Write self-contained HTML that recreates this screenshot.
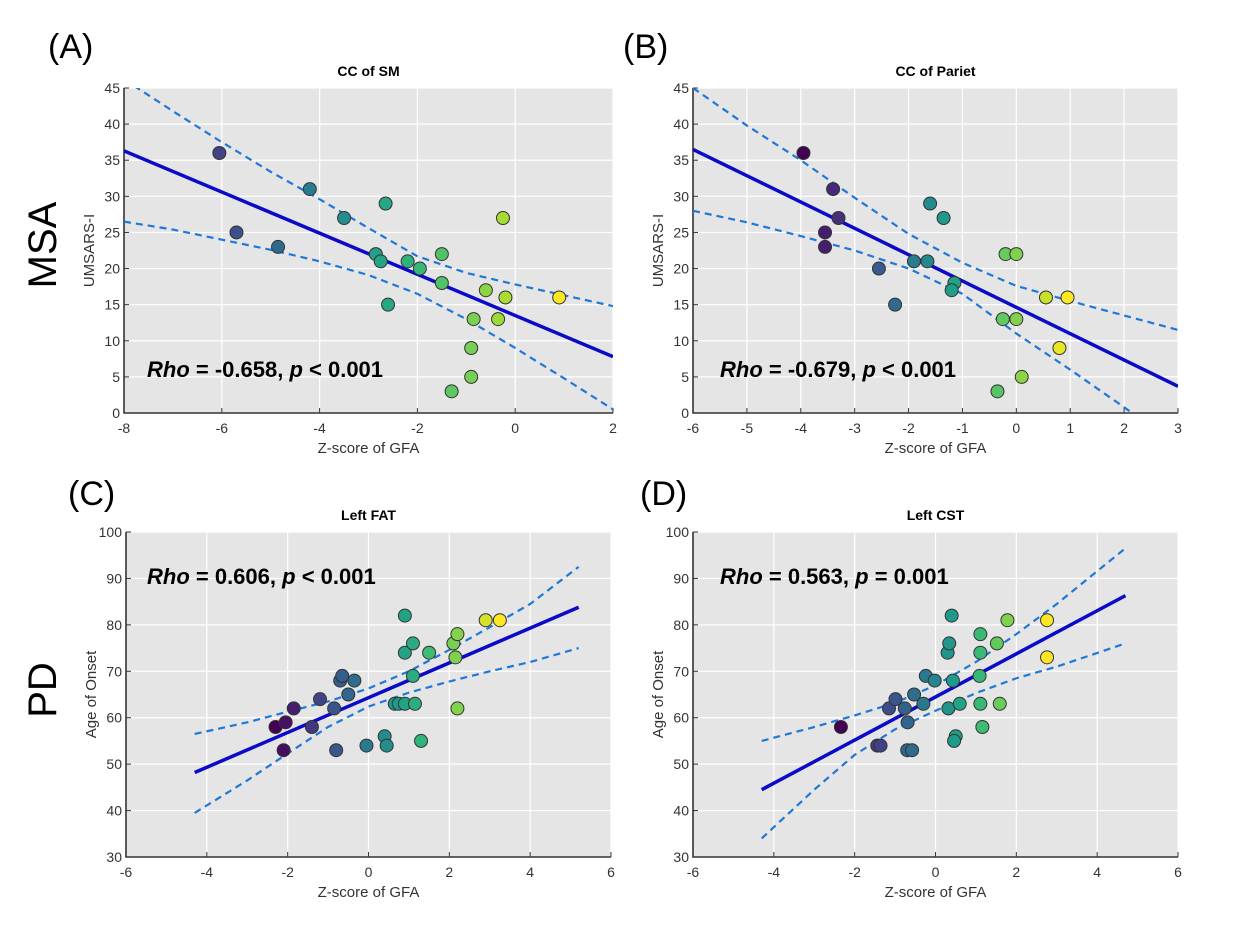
<!DOCTYPE html>
<html><head><meta charset="utf-8"><style>
body{margin:0;background:#fff;}
svg{display:block;font-family:"Liberation Sans",Arial,sans-serif;}
</style></head><body>
<svg id="fig" width="1235" height="934" viewBox="0 0 1235 934" xmlns="http://www.w3.org/2000/svg">
<text x="48" y="58" font-size="34">(A)</text>
<text x="623" y="58" font-size="34">(B)</text>
<text x="68" y="505" font-size="34">(C)</text>
<text x="640" y="505" font-size="34">(D)</text>
<text transform="translate(56,245) rotate(-90)" text-anchor="middle" font-size="40">MSA</text>
<text transform="translate(56,690) rotate(-90)" text-anchor="middle" font-size="40">PD</text>
</svg>
<script>
// Panel A data
const aX=[-6.05,-5.7,-4.85,-4.2,-3.5,-2.65,-2.85,-2.75,-2.6,-2.2,-1.95,-1.5,-1.5,-1.3,-0.85,-0.9,-0.9,-0.6,-0.25,-0.35,-0.2,0.9];
const aY=[36,25,23,31,27,29,22,21,15,21,20,22,18,3,13,9,5,17,27,13,16,16];
const aFitX=[-8,2]; const aFitY=[36.3,7.8];
const aCiX=[-8,-7,-6,-5,-4,-3,-2,-1,0,1,2];
const aCiUp=[46.2,41.8,37.5,33.4,29.6,25.6,21.7,19.4,17.8,16.3,14.8];
const aCiLo=[26.5,25.4,24.0,22.6,21.0,19.1,16.5,13.0,9.0,4.8,0.5];
// Panel B data
const bX=[-3.95,-3.4,-3.3,-3.55,-3.55,-2.55,-2.25,-1.9,-1.65,-1.6,-1.35,-1.15,-1.2,-0.2,0.0,-0.25,0.0,-0.35,0.1,0.55,0.95,0.8];
const bY=[36,31,27,25,23,20,15,21,21,29,27,18,17,22,22,13,13,3,5,16,16,9];
const bFitX=[-6,3]; const bFitY=[36.5,3.7];
const bCiX=[-6,-5,-4,-3,-2,-1,0,1,2,3];
const bCiUp=[45,39.8,35,29.8,24.8,20.8,17.6,15.5,13.5,11.5];
const bCiLo=[28,26.4,24.5,22.5,20,16.5,11,6,0.8,-4.5];
// Panel C data
const cX=[-2.3,-2.05,-2.1,-1.85,-1.4,-1.2,-0.85,-0.7,-0.65,-0.8,-0.5,-0.35,-0.05,0.4,0.45,0.9,0.9,1.1,1.1,0.65,0.75,0.9,1.15,1.3,1.5,2.1,2.15,2.2,2.2,2.9,3.25];
const cY=[58,59,53,62,58,64,62,68,69,53,65,68,54,56,54,82,74,76,69,63,63,63,63,55,74,76,73,78,62,81,81];
const cFitX=[-4.3,5.2]; const cFitY=[48.2,83.8];
const cCiX=[-4.3,-3,-2,-1,0,1,2,3,4,5.2];
const cCiUp=[56.5,59,61.3,63.5,66.3,70,74.6,79.5,84.5,92.5];
const cCiLo=[39.5,46.5,52.3,58,62.4,65.4,67.8,70,72,75];
// Panel D data
const dX=[-2.34,-1.44,-1.36,-1.15,-0.99,-0.76,-0.69,-0.7,-0.58,-0.53,-0.3,-0.24,-0.02,0.32,0.3,0.34,0.4,0.43,0.5,0.46,0.6,1.09,1.11,1.11,1.11,1.16,1.52,1.59,1.78,2.76,2.76];
const dY=[58,54,54,62,64,62,59,53,53,65,63,69,68,62,74,76,82,68,56,55,63,69,74,78,63,58,76,63,81,81,73];
const dFitX=[-4.3,4.7]; const dFitY=[44.5,86.3];
const dCiX=[-4.3,-3,-2,-1,0,1,2,3,4.7];
const dCiUp=[55,58,60.5,63.2,67,72,78,84.5,96.5];
const dCiLo=[34,44.5,52,57.5,61.5,65.3,68.5,71,76];
// Axis ticks
const ticksAx=[-8,-6,-4,-2,0,2]; const ticksAy=[0,5,10,15,20,25,30,35,40,45];
const ticksBx=[-6,-5,-4,-3,-2,-1,0,1,2,3]; const ticksBy=[0,5,10,15,20,25,30,35,40,45];
const ticksCx=[-6,-4,-2,0,2,4,6]; const ticksCy=[30,40,50,60,70,80,90,100];
const ticksDx=[-6,-4,-2,0,2,4,6]; const ticksDy=[30,40,50,60,70,80,90,100];

const NS='http://www.w3.org/2000/svg';
const svg=document.getElementById('fig');
const VIR=[[68,1,84],[72,40,120],[62,74,137],[49,104,142],[38,130,142],[31,158,137],[53,183,121],[109,205,89],[180,222,44],[253,231,37]];
function vir(t){t=Math.max(0,Math.min(1,t));const f=t*(VIR.length-1);const i=Math.min(VIR.length-2,Math.floor(f));const u=f-i;
 const c=VIR[i].map((v,k)=>Math.round(v+(VIR[i+1][k]-v)*u));return 'rgb('+c.join(',')+')';}
function mk(tag,attrs,parent){const e=document.createElementNS(NS,tag);for(const k in attrs)e.setAttribute(k,attrs[k]);(parent||svg).appendChild(e);return e;}

function panel(cfg){
 const g=mk('g',{});
 
 
 const L=cfg.L,R=cfg.R,T=cfg.T,B=cfg.B;
 const sx=v=>L+(v-cfg.xmin)/(cfg.xmax-cfg.xmin)*(R-L);
 const sy=v=>B-(v-cfg.ymin)/(cfg.ymax-cfg.ymin)*(B-T);
 const bg=mk('rect',{x:L,y:T,width:R-L,height:B-T,fill:'#e5e5e5'},g);
 
 
 const clipId='clip'+cfg.name;
 const cp=mk('clipPath',{id:clipId},g);mk('rect',{x:L,y:T,width:R-L,height:B-T},cp);
 cfg.tx.forEach(v=>{const l=mk('line',{x1:sx(v),x2:sx(v),y1:T,y2:B,stroke:'#fff','stroke-width':1.2},g);
  
  
  const t=mk('text',{x:sx(v),y:B+20,'text-anchor':'middle','font-size':14,fill:'#333'},g);t.textContent=v;
  
  
  mk('line',{x1:sx(v),x2:sx(v),y1:B,y2:B-5,stroke:'#333','stroke-width':1},g);});
 cfg.ty.forEach(v=>{const l=mk('line',{x1:L,x2:R,y1:sy(v),y2:sy(v),stroke:'#fff','stroke-width':1.2},g);
  
  
  const t=mk('text',{x:L-4,y:sy(v)+5,'text-anchor':'end','font-size':14,fill:'#333'},g);t.textContent=v;
  
  
  mk('line',{x1:L,x2:L+5,y1:sy(v),y2:sy(v),stroke:'#333','stroke-width':1},g);});
 const ax=mk('path',{d:`M${L},${T}V${B}H${R}`,stroke:'#333','stroke-width':1.6,fill:'none'},g);
 
 
 const cg=mk('g',{'clip-path':`url(#${clipId})`},g);
 const ptsU=cfg.ciX.map((x,i)=>sx(x)+','+sy(cfg.ciUp[i])).join(' ');
 const ptsL=cfg.ciX.map((x,i)=>sx(x)+','+sy(cfg.ciLo[i])).join(' ');
 const u=mk('polyline',{points:ptsU,fill:'none',stroke:'#1f78d8','stroke-width':2.2,'stroke-dasharray':'7,5'},cg);
 
 
 const lo=mk('polyline',{points:ptsL,fill:'none',stroke:'#1f78d8','stroke-width':2.2,'stroke-dasharray':'7,5'},cg);
 
 
 const fl=mk('line',{x1:sx(cfg.fitX[0]),y1:sy(cfg.fitY[0]),x2:sx(cfg.fitX[1]),y2:sy(cfg.fitY[1]),stroke:'#0a0ac8','stroke-width':3.5},cg);
 
 
 const xmn=Math.min(...cfg.x),xmx=Math.max(...cfg.x);
 cfg.x.forEach((x,i)=>{const t=cfg.c0+(1-cfg.c0)*(x-xmn)/(xmx-xmn);
  const c=mk('circle',{cx:sx(x),cy:sy(cfg.y[i]),r:6.5,fill:vir(t),stroke:'#333','stroke-width':1},g);
  
  });
 const ti=mk('text',{x:(L+R)/2,y:T-12,'text-anchor':'middle','font-size':14,'font-weight':'bold'},g);ti.textContent=cfg.title;
 
 
 const xl=mk('text',{x:(L+R)/2,y:B+40,'text-anchor':'middle','font-size':15,fill:'#333'},g);xl.textContent='Z-score of GFA';
 
 
 const yl=mk('text',{transform:`translate(${L-30},${(T+B)/2}) rotate(-90)`,'text-anchor':'middle','font-size':15,fill:'#333'},g);yl.textContent=cfg.ylab;
 
 
 const an=mk('text',{x:cfg.annX,y:cfg.annY,'font-size':22,'font-weight':'bold',fill:'#000'},g);
 an.innerHTML=`<tspan font-style="italic">Rho</tspan> = ${cfg.rho}, <tspan font-style="italic">p</tspan> ${cfg.p}`;
 
 
}
panel({name:'panel-a',c0:0.2,L:124,R:613,T:88,B:413,xmin:-8,xmax:2,ymin:0,ymax:45,tx:ticksAx,ty:ticksAy,x:aX,y:aY,fitX:aFitX,fitY:aFitY,ciX:aCiX,ciUp:aCiUp,ciLo:aCiLo,title:'CC of SM',ylab:'UMSARS-I',rho:'-0.658',p:'< 0.001',annX:147,annY:377});
panel({name:'panel-b',c0:0,L:693,R:1178,T:88,B:413,xmin:-6,xmax:3,ymin:0,ymax:45,tx:ticksBx,ty:ticksBy,x:bX,y:bY,fitX:bFitX,fitY:bFitY,ciX:bCiX,ciUp:bCiUp,ciLo:bCiLo,title:'CC of Pariet',ylab:'UMSARS-I',rho:'-0.679',p:'< 0.001',annX:720,annY:377});
panel({name:'panel-c',c0:0,L:126,R:611,T:532,B:857,xmin:-6,xmax:6,ymin:30,ymax:100,tx:ticksCx,ty:ticksCy,x:cX,y:cY,fitX:cFitX,fitY:cFitY,ciX:cCiX,ciUp:cCiUp,ciLo:cCiLo,title:'Left FAT',ylab:'Age of Onset',rho:'0.606',p:'< 0.001',annX:147,annY:584});
panel({name:'panel-d',c0:0,L:693,R:1178,T:532,B:857,xmin:-6,xmax:6,ymin:30,ymax:100,tx:ticksDx,ty:ticksDy,x:dX,y:dY,fitX:dFitX,fitY:dFitY,ciX:dCiX,ciUp:dCiUp,ciLo:dCiLo,title:'Left CST',ylab:'Age of Onset',rho:'0.563',p:'= 0.001',annX:720,annY:584});
</script>
</body></html>
